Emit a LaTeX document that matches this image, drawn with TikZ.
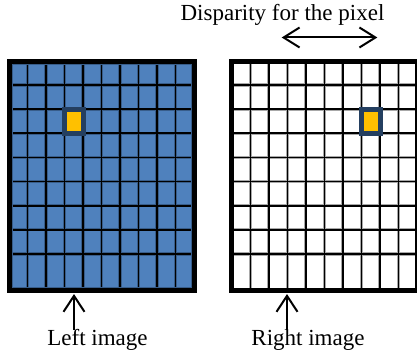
\documentclass[tikz,border=0pt]{standalone}
\usepackage{fontspec}
\setmainfont{Liberation Serif}
\usetikzlibrary{arrows.meta}
\definecolor{cellblue}{HTML}{4F81BD}
\definecolor{celledge}{HTML}{385D8A}
\definecolor{whiteedge}{HTML}{A8A8A8}
\definecolor{hlnavy}{HTML}{243F60}
\definecolor{hlorange}{HTML}{FFC000}
\tikzset{
  lbl/.style={font=\fontsize{23}{26}\selectfont, inner sep=0pt, anchor=base},
  frame/.style={line width=5pt, draw=black},
  gridhalo/.style={line width=3.2pt},
  gridline/.style={line width=1.6pt, draw=black},
  hlbox/.style={draw=hlnavy, line width=4.8pt, fill=hlorange},
  twoarrow/.style={line width=2pt, {Straight Barb[length=16pt,width=20pt]}-{Straight Barb[length=16pt,width=20pt]}},
  uparrow/.style={line width=2pt, -{Straight Barb[length=16pt,width=21pt]}}
}
\begin{document}
\begin{tikzpicture}[x=1pt,y=-1pt]
\useasboundingbox (0,0) rectangle (417,358);
\begin{scope}
\clip (0,0) rectangle (417,358);
% ---------- left image ----------
\fill[cellblue] (12,64) rectangle (192,288);
\foreach \x in {27.5,46,64.5,83,101.5,120,138.5,157,175.5}
  \draw[gridhalo, celledge] (\x,64) -- (\x,288);
\foreach \y in {85,109.14,133.28,157.42,181.56,205.7,229.84,253.98}
  \draw[gridhalo, celledge] (12,\y) -- (192,\y);
\foreach \x in {27.5,46,64.5,83,101.5,120,138.5,157,175.5}
  \draw[gridline] (\x,64) -- (\x,288);
\foreach \y in {85,109.14,133.28,157.42,181.56,205.7,229.84,253.98}
  \draw[gridline] (12,\y) -- (192,\y);
\draw[celledge, line width=1pt] (12.5,64.5) rectangle (191.5,287.5);
\draw[frame] (9.5,61.7) rectangle (194.5,290.3);
\draw[hlbox] (64.8,109.8) rectangle (83.2,133.6);
% ---------- right image ----------
\fill[white] (234,64) rectangle (415,288);
\foreach \x in {250.3,268.8,287.3,305.8,324.3,342.8,361.3,379.8,398.3}
  \draw[gridhalo, whiteedge] (\x,64) -- (\x,288);
\foreach \y in {85,109.14,133.28,157.42,181.56,205.7,229.84,253.98}
  \draw[gridhalo, whiteedge] (234,\y) -- (415,\y);
\foreach \x in {250.3,268.8,287.3,305.8,324.3,342.8,361.3,379.8,398.3}
  \draw[gridline] (\x,64) -- (\x,288);
\foreach \y in {85,109.14,133.28,157.42,181.56,205.7,229.84,253.98}
  \draw[gridline] (234,\y) -- (415,\y);
\draw[frame] (231.5,61.7) rectangle (417.6,290.3);
\draw[hlbox] (361.5,109.8) rectangle (380.2,133.6);
\end{scope}
% ---------- labels ----------
\node[lbl] (title) at (282.5,21) {Disparity for the pixel};
\node[lbl] (leftlbl) at (97.5,345.5) {Left image};
\node[lbl] (rightlbl) at (308,345.5) {Right image};
% ---------- arrows ----------
\coordinate (dl) at (281.7,37.5);
\coordinate (dr) at (377.3,37.5);
\draw[twoarrow] (dl) -- (dr);
\coordinate (lt) at (74,294);
\coordinate (lb) at (74,330);
\draw[uparrow] (lb) -- (lt);
\coordinate (rt) at (287,294);
\coordinate (rb) at (287,330);
\draw[uparrow] (rb) -- (rt);
\end{tikzpicture}
\end{document}
